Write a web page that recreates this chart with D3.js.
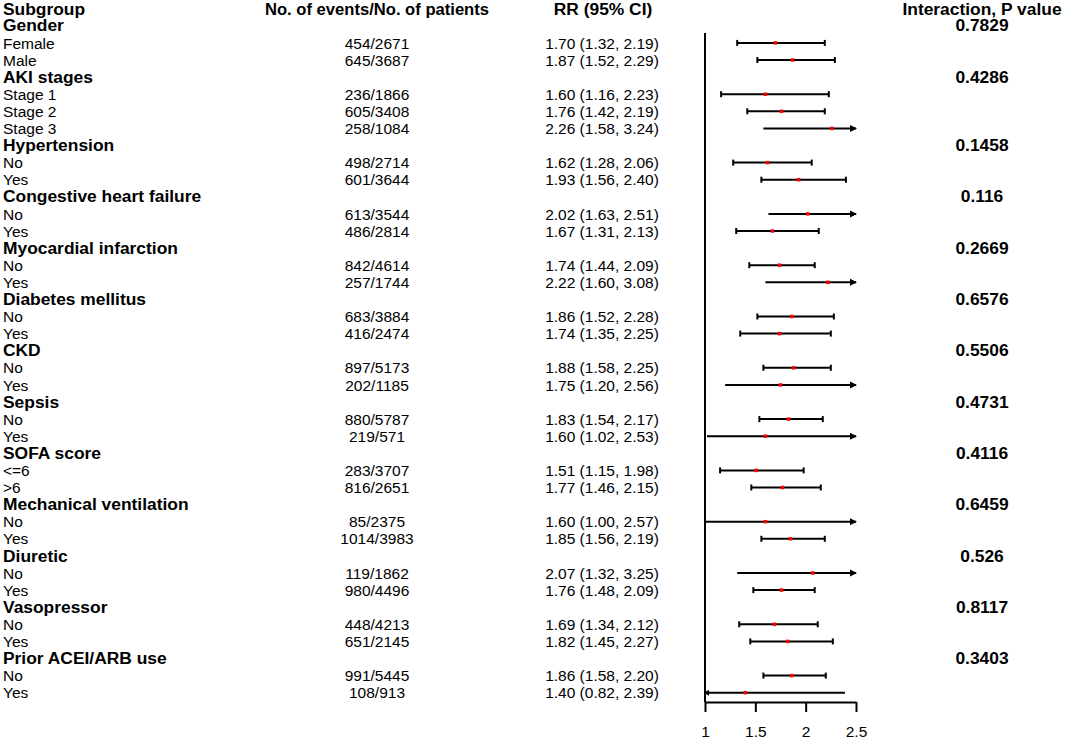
<!DOCTYPE html>
<html><head><meta charset="utf-8">
<script src="https://cdn.jsdelivr.net/npm/d3@7"></script>
<style>
html,body{margin:0;padding:0;background:#fff;}
svg{display:block;font-family:"Liberation Sans",Arial,sans-serif;}
</style></head>
<body>
<svg id="chart" width="1065" height="739"></svg>
<script>
const headers = ["Subgroup", "No. of events/No. of patients", "RR (95% CI)", "Interaction, P value"];
const groups = ["Gender","AKI stages","Hypertension","Congestive heart failure","Myocardial infarction","Diabetes mellitus","CKD","Sepsis","SOFA score","Mechanical ventilation","Diuretic","Vasopressor","Prior ACEI/ARB use"];
const pValues = ["0.7829","0.4286","0.1458","0.116","0.2669","0.6576","0.5506","0.4731","0.4116","0.6459","0.526","0.8117","0.3403"];
const subgroups = [["Female","Male"],["Stage 1","Stage 2","Stage 3"],["No","Yes"],["No","Yes"],["No","Yes"],["No","Yes"],["No","Yes"],["No","Yes"],["<=6",">6"],["No","Yes"],["No","Yes"],["No","Yes"],["No","Yes"]];
const events = [["454/2671","645/3687"],["236/1866","605/3408","258/1084"],["498/2714","601/3644"],["613/3544","486/2814"],["842/4614","257/1744"],["683/3884","416/2474"],["897/5173","202/1185"],["880/5787","219/571"],["283/3707","816/2651"],["85/2375","1014/3983"],["119/1862","980/4496"],["448/4213","651/2145"],["991/5445","108/913"]];
const rr = [[1.70,1.87],[1.60,1.76,2.26],[1.62,1.93],[2.02,1.67],[1.74,2.22],[1.86,1.74],[1.88,1.75],[1.83,1.60],[1.51,1.77],[1.60,1.85],[2.07,1.76],[1.69,1.82],[1.86,1.40]];
const lower = [[1.32,1.52],[1.16,1.42,1.58],[1.28,1.56],[1.63,1.31],[1.44,1.60],[1.52,1.35],[1.58,1.20],[1.54,1.02],[1.15,1.46],[1.00,1.56],[1.32,1.48],[1.34,1.45],[1.58,0.82]];
const upper = [[2.19,2.29],[2.23,2.19,3.24],[2.06,2.40],[2.51,2.13],[2.09,3.08],[2.28,2.25],[2.25,2.56],[2.17,2.53],[1.98,2.15],[2.57,2.19],[3.25,2.09],[2.12,2.27],[2.20,2.39]];
const axisTicks = [1, 1.5, 2, 2.5];

// Build row table
const rows = [];
groups.forEach((g, gi) => {
  rows.push({type:"group", label:g, p:pValues[gi]});
  subgroups[gi].forEach((s, si) => {
    rows.push({type:"sub", label:s, ev:events[gi][si], rr:rr[gi][si], lo:lower[gi][si], hi:upper[gi][si]});
  });
});

const svg = d3.select("#chart");
const nRows = rows.length; // 40
const y = d3.scaleLinear().domain([0, nRows]).range([14.3, 14.3 + 17.1 * nRows]);
const x = d3.scaleLinear().domain([1, 2.5]).range([705, 856]);
const fmt = d3.format(".2f");

const colX = {label: 3, ev: 377, rr: 602, p: 982};
const regSize = "15.5px", boldSize = "17.4px";
const headY = 15;

// Headers (row 0)
svg.append("text").attr("x", colX.label).attr("y", headY).attr("font-weight","bold").attr("font-size",boldSize).text(headers[0]);
svg.append("text").attr("x", colX.ev).attr("y", headY).attr("text-anchor","middle").attr("font-weight","bold").attr("font-size","16.6px").text(headers[1]);
svg.append("text").attr("x", 603).attr("y", headY).attr("text-anchor","middle").attr("font-weight","bold").attr("font-size",boldSize).text(headers[2]);
svg.append("text").attr("x", colX.p).attr("y", headY).attr("text-anchor","middle").attr("font-weight","bold").attr("font-size",boldSize).text(headers[3]);

const rowG = svg.selectAll("g.row").data(rows).join("g").attr("class","row");

rowG.append("text")
  .attr("x", colX.label)
  .attr("y", (d,i) => y(i+1))
  .attr("font-weight", d => d.type === "group" ? "bold" : "normal")
  .attr("font-size", d => d.type === "group" ? boldSize : regSize)
  .text(d => d.label);

const subs = rowG.filter(d => d.type === "sub");
subs.append("text")
  .attr("x", colX.ev).attr("y", d => y(rows.indexOf(d)+1))
  .attr("text-anchor","middle").attr("font-size",regSize)
  .text(d => d.ev);
subs.append("text")
  .attr("x", colX.rr).attr("y", d => y(rows.indexOf(d)+1))
  .attr("text-anchor","middle").attr("font-size",regSize)
  .text(d => `${fmt(d.rr)} (${fmt(d.lo)}, ${fmt(d.hi)})`);

rowG.filter(d => d.type === "group").append("text")
  .attr("x", colX.p).attr("y", d => y(rows.indexOf(d)+1))
  .attr("text-anchor","middle").attr("font-weight","bold").attr("font-size",boldSize)
  .text(d => d.p);

// Forest plot
const [dMin, dMax] = x.domain();
subs.each(function(d) {
  const g = d3.select(this);
  const cy = y(rows.indexOf(d)+1) - 5.6;
  const clipL = d.lo < dMin, clipR = d.hi > dMax;
  const x1 = x(Math.max(d.lo, dMin)), x2 = x(Math.min(d.hi, dMax));
  g.append("line").attr("x1", x1).attr("x2", x2).attr("y1", cy).attr("y2", cy)
    .attr("stroke","#000").attr("stroke-width",2);
  const clipped = clipL || clipR;
  if (!clipped) {
    [x1, x2].forEach(cx => g.append("line").attr("x1",cx).attr("x2",cx).attr("y1",cy-3).attr("y2",cy+3).attr("stroke","#000").attr("stroke-width",2));
  }
  if (clipR) {
    g.append("path").attr("d", `M${x2+1},${cy} L${x2-6},${cy-3.5} L${x2-6},${cy+3.5} Z`).attr("fill","#000");
  }
  if (clipL) {
    g.append("path").attr("d", `M${x1-1},${cy} L${x1+4},${cy-3} L${x1+4},${cy+3} Z`).attr("fill","#000");
  }
  g.append("rect").attr("x", x(d.rr)-1.75).attr("y", cy-1.75).attr("width",3.5).attr("height",3.5).attr("fill","#ff0000");
});

// Reference line at 1
const axisY = 702;
svg.append("line").attr("x1", x(1)).attr("x2", x(1)).attr("y1", 33).attr("y2", axisY)
  .attr("stroke","#000").attr("stroke-width",2);

// Axis
const axis = d3.axisBottom(x).tickValues(axisTicks).tickFormat(d3.format("")).tickSize(10).tickSizeOuter(0).tickPadding(14);
const ag = svg.append("g").attr("transform", `translate(0,${axisY})`).call(axis);
ag.select(".domain").attr("stroke","#000").attr("stroke-width",2);
ag.selectAll(".tick line").attr("stroke","#000").attr("stroke-width",2);
ag.selectAll(".tick text").attr("font-size",regSize).attr("font-family","'Liberation Sans',Arial,sans-serif").attr("fill","#000");
</script>
</body></html>
